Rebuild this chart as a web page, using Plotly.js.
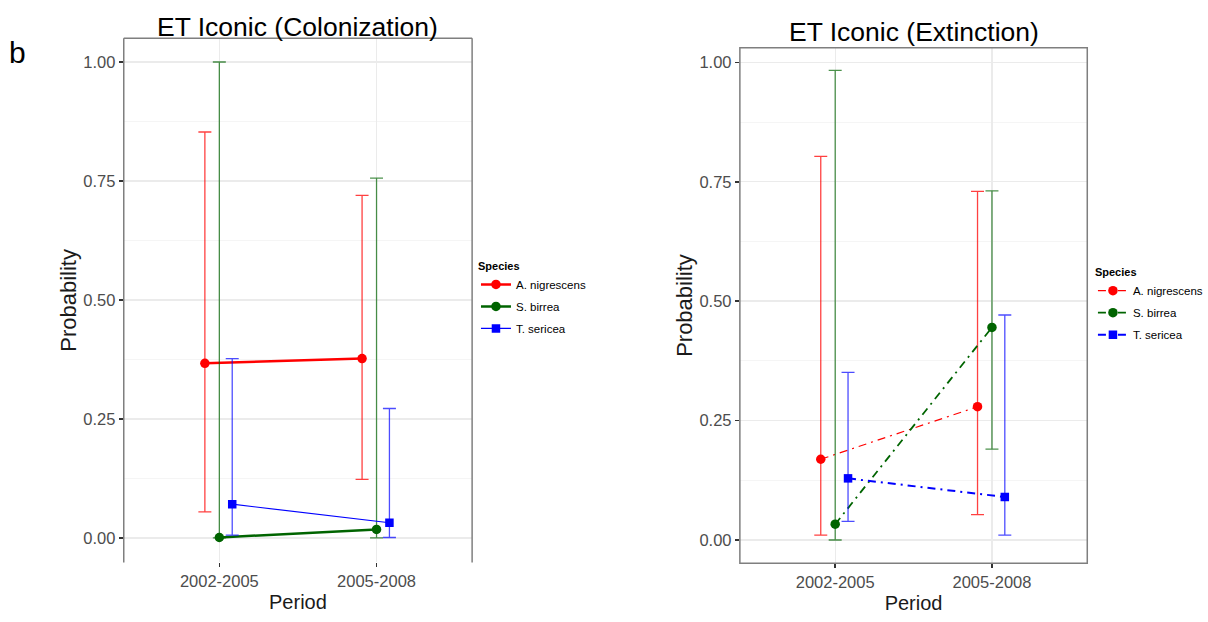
<!DOCTYPE html>
<html>
<head>
<meta charset="utf-8">
<script src="https://cdn.plot.ly/plotly-3.0.1.min.js"></script>
<style>
  html, body { margin: 0; padding: 0; background: #fff; }
  #chart { width: 1208px; height: 622px; }
</style>
</head>
<body>
<div id="chart"></div>
<script>
// Period categories and species names
const periods = ['2002-2005', '2005-2008'];
const species = ['A. nigrescens', 'S. birrea', 'T. sericea'];
const yTicks = [0, 0.25, 0.5, 0.75, 1];
const yTickLabels = ['0.00', '0.25', '0.50', '0.75', '1.00'];

// Colonization probabilities: estimate, lower and upper bound per period
const colNigrescens   = [0.367, 0.377];
const colNigrescensLo = [0.055, 0.123];
const colNigrescensHi = [0.853, 0.720];
const colBirrea       = [0.001, 0.018];
const colBirreaLo     = [0.000, 0.000];
const colBirreaHi     = [1.000, 0.756];
const colSericea      = [0.071, 0.032];
const colSericeaLo    = [0.006, 0.001];
const colSericeaHi    = [0.377, 0.272];

// Extinction probabilities
const extNigrescens   = [0.169, 0.279];
const extNigrescensLo = [0.010, 0.053];
const extNigrescensHi = [0.803, 0.730];
const extBirrea       = [0.033, 0.445];
const extBirreaLo     = [0.000, 0.190];
const extBirreaHi     = [0.983, 0.731];
const extSericea      = [0.129, 0.090];
const extSericeaLo    = [0.039, 0.010];
const extSericeaHi    = [0.351, 0.471];

const FONT = 'Liberation Sans, Arial, sans-serif';
const COLORS = ['#ff0000', '#006400', '#0000ff'];
const BAR_COLORS = ['rgba(255,0,0,0.75)', 'rgba(0,100,0,0.7)', 'rgba(0,0,255,0.7)'];
const SYMBOLS = ['circle', 'circle', 'square'];
const DODGE = [-0.092, 0, 0.082];
const catPos = periods.map((p, i) => i + 1);

function makeTrace(k, est, lo, hi, xa, ya, legend, line) {
  return {
    type: 'scatter',
    mode: 'lines+markers',
    name: species[k],
    legend: legend,
    legendgroup: legend + k,
    x: catPos.map(v => v + DODGE[k]),
    y: est,
    xaxis: xa,
    yaxis: ya,
    line: Object.assign({ color: COLORS[k] }, line),
    marker: { color: COLORS[k], symbol: SYMBOLS[k], size: k === 2 ? 8.5 : 9.5 },
    error_y: {
      type: 'data',
      symmetric: false,
      array: hi.map((h, i) => h - est[i]),
      arrayminus: lo.map((l, i) => est[i] - l),
      color: BAR_COLORS[k],
      thickness: 1.3,
      width: 6.5
    },
    hoverinfo: 'x+y+name'
  };
}

const traces = [
  makeTrace(0, colNigrescens, colNigrescensLo, colNigrescensHi, 'x', 'y', 'legend', { width: 2.5 }),
  makeTrace(1, colBirrea, colBirreaLo, colBirreaHi, 'x', 'y', 'legend', { width: 2.5 }),
  makeTrace(2, colSericea, colSericeaLo, colSericeaHi, 'x', 'y', 'legend', { width: 1.2 }),
  makeTrace(0, extNigrescens, extNigrescensLo, extNigrescensHi, 'x2', 'y2', 'legend2', { width: 1.2, dash: '8px,5px,2px,5px' }),
  makeTrace(1, extBirrea, extBirreaLo, extBirreaHi, 'x2', 'y2', 'legend2', { width: 1.8, dash: '8px,5px,2px,5px' }),
  makeTrace(2, extSericea, extSericeaLo, extSericeaHi, 'x2', 'y2', 'legend2', { width: 2, dash: '8px,5px,2px,5px' })
];

function xAxis(domain, anchor) {
  return {
    domain: domain, anchor: anchor, range: [0.392, 2.608],
    tickmode: 'array', tickvals: catPos, ticktext: periods,
    showgrid: true, gridcolor: '#ebebeb', gridwidth: 1.3,
    zeroline: false, showline: false,
    ticks: 'outside', ticklen: 4, tickwidth: 1.6, tickcolor: '#333333',
    tickfont: { family: FONT, size: 16.5, color: '#4d4d4d' },
    title: { text: 'Period', font: { family: FONT, size: 20, color: '#1a1a1a' }, standoff: 5 },
    fixedrange: true
  };
}
function yAxis(domain, anchor, range) {
  return {
    domain: domain, anchor: anchor, range: range,
    tickmode: 'array', tickvals: yTicks, ticktext: yTickLabels,
    showgrid: true, gridcolor: '#ebebeb', gridwidth: 1.3,
    minor: { dtick: 0.125, tick0: 0.125, showgrid: true, gridcolor: '#f5f5f5', gridwidth: 1 },
    zeroline: false, showline: false,
    ticks: 'outside', ticklen: 4, tickwidth: 1.6, tickcolor: '#333333',
    tickfont: { family: FONT, size: 16.5, color: '#4d4d4d' },
    title: { text: 'Probability', font: { family: FONT, size: 22, color: '#1a1a1a' }, standoff: 0 },
    fixedrange: true
  };
}

const BORDER = { color: '#7f7f7f', width: 1.5 };
function seg(xref, yref, x0, y0, x1, y1) {
  return { type: 'line', xref: xref, yref: yref, x0: x0, y0: y0, x1: x1, y1: y1, line: BORDER, layer: 'above' };
}

const legendStyle = {
  xanchor: 'left', yanchor: 'top',
  title: { text: '<b>Species</b>', font: { family: FONT, size: 11, color: '#000' } },
  font: { family: FONT, size: 11.5, color: '#000' },
  tracegroupgap: 3, itemwidth: 30, bgcolor: 'rgba(0,0,0,0)'
};

const layout = {
  width: 1208, height: 622,
  margin: { l: 0, r: 0, t: 0, b: 0 },
  paper_bgcolor: '#ffffff', plot_bgcolor: '#ffffff',
  font: { family: FONT, color: '#1a1a1a' },
  xaxis: xAxis([0.1027, 0.3918], 'y'),
  yaxis: yAxis([0.0957, 0.9384], 'x', [-0.0515, 1.0498]),
  xaxis2: xAxis([0.614, 0.9023], 'y2'),
  yaxis2: yAxis([0.0944, 0.9233], 'x2', [-0.0488, 1.0306]),
  legend: Object.assign({ x: 0.395, y: 0.589 }, legendStyle),
  legend2: Object.assign({ x: 0.907, y: 0.579 }, legendStyle),
  shapes: [
    // Colonization panel frame (left, top, right)
    seg('x domain', 'y domain', 0, 0, 0, 1),
    seg('x domain', 'y domain', 0, 1, 1, 1),
    seg('x domain', 'y domain', 1, 0, 1, 1),
    // Extinction panel frame
    { type: 'rect', xref: 'x2 domain', yref: 'y2 domain', x0: 0, y0: 0, x1: 1, y1: 1, line: BORDER, layer: 'above' }
  ],
  annotations: [
    { text: 'ET Iconic (Colonization)', xref: 'x domain', yref: 'paper', x: 0.5, y: 1 - 27 / 622,
      xanchor: 'center', yanchor: 'middle', showarrow: false,
      font: { family: FONT, size: 26.5, color: '#000' } },
    { text: 'ET Iconic (Extinction)', xref: 'x2 domain', yref: 'paper', x: 0.5, y: 1 - 32 / 622,
      xanchor: 'center', yanchor: 'middle', showarrow: false,
      font: { family: FONT, size: 26.5, color: '#000' } },
    { text: 'b', xref: 'paper', yref: 'paper', x: 18 / 1208, y: 1 - 52 / 622,
      xanchor: 'center', yanchor: 'middle', showarrow: false,
      font: { family: FONT, size: 30, color: '#000' } }
  ],
  showlegend: true
};

Plotly.newPlot('chart', traces, layout, { displayModeBar: false, staticPlot: true });
</script>
</body>
</html>
